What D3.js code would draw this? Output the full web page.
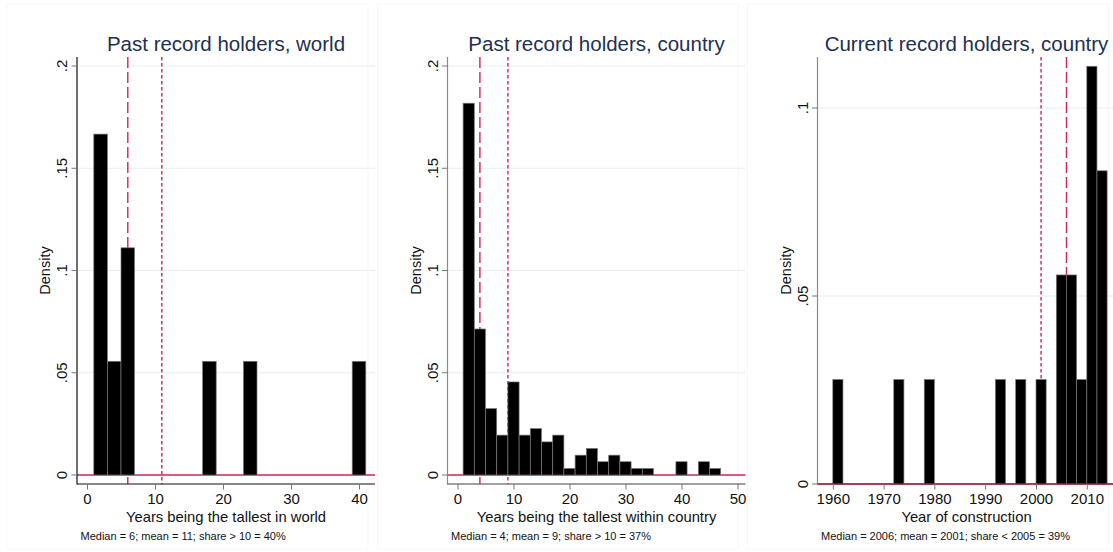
<!DOCTYPE html>
<html>
<head>
<meta charset="utf-8">
<script src="https://cdn.jsdelivr.net/npm/d3@7"></script>
<style>
  body { margin: 0; background: #fff; }
  svg { display: block; font-family: "Liberation Sans", Arial, sans-serif; }
</style>
</head>
<body>
<div id="chart"></div>
<script>
// histogram bins (left edge, width 2) and densities
const worldBins = [1, 3, 5, 17, 23, 39];
const worldDensity = [0.1667, 0.0556, 0.1111, 0.0556, 0.0556, 0.0556];

const countryBins = [1, 3, 5, 7, 9, 11, 13, 15, 17, 19, 21, 23, 25, 27, 29, 31, 33, 35, 37, 39, 41, 43, 45];
const countryDensity = [0.1818, 0.0714, 0.0325, 0.0195, 0.0455, 0.0195, 0.0227, 0.0162, 0.0195, 0.0032,
  0.0097, 0.013, 0.0065, 0.0097, 0.0065, 0.0032, 0.0032, 0, 0, 0.0065, 0, 0.0065, 0.0032];

const currentBins = [1960, 1972, 1978, 1992, 1996, 2000, 2004, 2006, 2008, 2010, 2012];
const currentDensity = [0.0278, 0.0278, 0.0278, 0.0278, 0.0278, 0.0278, 0.0556, 0.0556, 0.0278, 0.1111, 0.0833];

const binWidth = 2;

const titles = ["Past record holders, world", "Past record holders, country", "Current record holders, country"];
const xTitles = ["Years being the tallest in world", "Years being the tallest within country", "Year of construction"];
const notes = ["Median = 6; mean = 11; share > 10 = 40%", "Median = 4; mean = 9; share > 10 = 37%",
  "Median = 2006; mean = 2001; share < 2005 = 39%"];
const medians = [6, 4, 2006];
const means = [11, 9, 2001];

const xTicksWorld = [0, 10, 20, 30, 40];
const xTicksCountry = [0, 10, 20, 30, 40, 50];
const xTicksYear = [1960, 1970, 1980, 1990, 2000, 2010];
const yTicksPast = [0, 0.05, 0.1, 0.15, 0.2];
const yTicksCurrent = [0, 0.05, 0.1];

const W = 1113, H = 552;
const red = "#cf2650";
const plot = { left: 77, right: 375, top: 57, axis: 484 };

const panels = [
  { ox: 0, bins: worldBins, dens: worldDensity, xDom: [0, 40], xRange: [87, 359], xTicks: xTicksWorld,
    yDom: [0, 0.2], yRange: [475, 66], yTicks: yTicksPast, axisCol: "#111", yAxisCol: "#111" },
  { ox: 370.5, bins: countryBins, dens: countryDensity, xDom: [0, 50], xRange: [87, 367], xTicks: xTicksCountry,
    yDom: [0, 0.2], yRange: [475, 66], yTicks: yTicksPast, axisCol: "#444", yAxisCol: "#8a8a8a" },
  { ox: 740.5, bins: currentBins, dens: currentDensity, xDom: [1960, 2010], xRange: [92.3, 346.3], xTicks: xTicksYear,
    yDom: [0, 0.1], yRange: [484, 108], yTicks: yTicksCurrent, axisCol: "#6e2232", yAxisCol: "#8a8a8a" }
];

const fmtY = d => d === 0 ? "0" : d3.format("")(d).replace(/^0/, "");

const svg = d3.select("#chart").append("svg")
  .attr("width", W).attr("height", H);

panels.forEach((p, i) => {
  const g = svg.append("g").attr("transform", `translate(${p.ox},0)`);
  const x = d3.scaleLinear().domain(p.xDom).range(p.xRange);
  const y = d3.scaleLinear().domain(p.yDom).range(p.yRange);

  // faint graph region outline
  g.append("rect")
    .attr("x", 7).attr("y", 4).attr("width", 361).attr("height", 545)
    .attr("fill", "none").attr("stroke", "#f6f7f8");

  // grid
  g.selectAll(".grid").data(p.yTicks.filter(d => d > 0)).enter()
    .append("line")
    .attr("x1", plot.left).attr("x2", plot.right)
    .attr("y1", d => y(d)).attr("y2", d => y(d))
    .attr("stroke", "#e7eef0").attr("stroke-width", 1);

  // red baseline at zero
  g.append("line")
    .attr("x1", plot.left).attr("x2", plot.right)
    .attr("y1", y(0)).attr("y2", y(0))
    .attr("stroke", red).attr("stroke-width", 1.3);

  // median (long dash) and mean (short dash)
  g.append("line")
    .attr("x1", x(medians[i])).attr("x2", x(medians[i]))
    .attr("y1", plot.top).attr("y2", plot.axis)
    .attr("stroke", red).attr("stroke-width", 1.4)
    .attr("stroke-dasharray", "11,4");
  g.append("line")
    .attr("x1", x(means[i])).attr("x2", x(means[i]))
    .attr("y1", plot.top).attr("y2", plot.axis)
    .attr("stroke", red).attr("stroke-width", 1.4)
    .attr("stroke-dasharray", "3.5,2.5");

  // bars
  const bars = p.bins.map((b, k) => ({ x0: b, d: p.dens[k] })).filter(d => d.d > 0);
  g.selectAll(".bar").data(bars).enter()
    .append("rect")
    .attr("x", d => x(d.x0))
    .attr("width", d => x(d.x0 + binWidth) - x(d.x0))
    .attr("y", d => y(d.d))
    .attr("height", d => y(0) - y(d.d))
    .attr("fill", "#000")
    .attr("stroke", "#7a7a7a").attr("stroke-width", 0.7);

  // y axis
  g.append("line")
    .attr("x1", plot.left).attr("x2", plot.left)
    .attr("y1", plot.top).attr("y2", plot.axis + 0.5)
    .attr("stroke", p.yAxisCol).attr("stroke-width", 1.2);
  g.selectAll(".ytick").data(p.yTicks).enter()
    .append("line")
    .attr("x1", plot.left - 5.5).attr("x2", plot.left)
    .attr("y1", d => y(d)).attr("y2", d => y(d))
    .attr("stroke", "#777").attr("stroke-width", 1);
  g.selectAll(".ylab").data(p.yTicks).enter()
    .append("text")
    .attr("transform", d => `translate(67,${y(d)}) rotate(-90)`)
    .attr("text-anchor", "middle")
    .attr("font-size", 15)
    .attr("fill", "#111")
    .text(fmtY);
  g.append("text")
    .attr("transform", `translate(50,${(plot.top + plot.axis) / 2}) rotate(-90)`)
    .attr("text-anchor", "middle")
    .attr("font-size", 14.5)
    .attr("fill", "#111")
    .text("Density");

  // x axis
  g.append("line")
    .attr("x1", plot.left).attr("x2", plot.right)
    .attr("y1", plot.axis).attr("y2", plot.axis)
    .attr("stroke", p.axisCol).attr("stroke-width", 1.2);
  const xAxis = d3.axisBottom(x).tickValues(p.xTicks).tickSize(5.5).tickPadding(4).tickFormat(d3.format("d"));
  const ax = g.append("g").attr("transform", `translate(0,${plot.axis})`).call(xAxis);
  ax.select(".domain").remove();
  ax.selectAll(".tick line").attr("stroke", "#777");
  ax.selectAll(".tick text")
    .attr("font-family", "Liberation Sans, Arial, sans-serif")
    .attr("font-size", 15).attr("fill", "#111");

  // titles and notes
  const cx = (plot.left + plot.right) / 2;
  g.append("text")
    .attr("x", cx).attr("y", 51)
    .attr("text-anchor", "middle")
    .attr("font-size", 20.5)
    .attr("fill", "#1e2f52")
    .text(titles[i]);
  g.append("text")
    .attr("x", cx).attr("y", 521.5)
    .attr("text-anchor", "middle")
    .attr("font-size", 14.8)
    .attr("fill", "#111")
    .text(xTitles[i]);
  g.append("text")
    .attr("x", 80.5).attr("y", 539.5)
    .attr("font-size", 11)
    .attr("fill", "#111")
    .text(notes[i]);
});
</script>
</body>
</html>
